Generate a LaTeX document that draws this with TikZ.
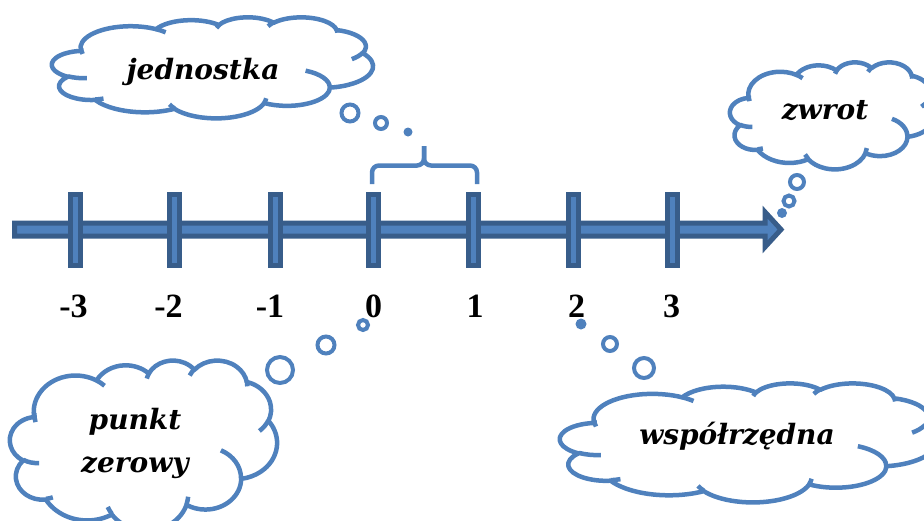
\documentclass[tikz,border=0pt]{standalone}
\usepackage{fontspec}
\setmainfont{Liberation Serif}
\newfontfamily\cloudfont{DejaVu Serif}
\definecolor{axisfill}{HTML}{4F81BD}
\definecolor{axisline}{HTML}{385D8A}

% Elliptic arc whose start and sweep are given as visual angles (degrees)
\newcommand\visarc[4]{%
  arc[x radius=#1, y radius=#2,
      start angle={atan2(#1*sin(#3),#2*cos(#3))},
      end angle={atan2(#1*sin(#3),#2*cos(#3))+mod(atan2(#1*sin(#3+#4),#2*cos(#3+#4))-atan2(#1*sin(#3),#2*cos(#3))+720,360)}]}

% Cloud outline in a 432 x 432 box
\newcommand\cloudoutline{%
  (39.00,143.70)
  \visarc{67.53}{91.90}{-190.48748}{123.78053}
  \visarc{53.33}{72.67}{-144.10238}{89.94523}
  \visarc{43.65}{59.45}{-145.80792}{99.72302}
  \visarc{48.57}{65.95}{-130.98607}{117.24173}
  \visarc{53.33}{72.73}{-78.70888}{109.02692}
  \visarc{67.75}{92.20}{-46.26725}{130.269}
  \visarc{57.85}{78.67}{0.62502}{114.03333}
  \visarc{67.52}{92.15}{22.4516}{115.17255}
  \visarc{77.20}{105.43}{66.24263}{75.71102}
  \visarc{43.60}{59.18}{-274.94208}{146.73557}
  \visarc{43.45}{59.45}{-246.8285}{152.51885}
  -- cycle}

% Short inner arcs of the cloud
\newcommand\cloudinner{%
  (46.93,261.77) \visarc{43.45}{59.45}{86.742}{26.4295}
  (69.28,348.99) \visarc{43.60}{59.18}{73.61047}{11.44747}
  (164.78,390.90) \visarc{67.52}{92.15}{137.62415}{14.0811}
  (288.27,347.51) \visarc{67.52}{92.15}{6.45327}{15.99835}
  (341.29,229.54) \visarc{57.85}{78.67}{-70.29235}{70.91737}
  (417.98,153.54) \visarc{53.33}{72.73}{30.31803}{27.7515}
  (383.24,54.26) \visarc{48.57}{65.95}{-13.74433}{14.8589}
  (290.78,39.52) \visarc{48.57}{65.95}{-149.18145}{18.19537}
  (221.41,47.20) \visarc{43.65}{59.45}{-163.49427}{17.68635}
  (140.00,51.92) \visarc{67.53}{91.90}{-66.70695}{12.31935}
  (41.27,157.89) \visarc{67.53}{91.90}{162.0468}{19.41953}}

\tikzset{
  cloudline/.style={draw=axisfill, line width=4.5pt, line join=round},
  bubble/.style={draw=axisfill, line width=4pt, fill=white},
  dotbubble/.style={fill=axisfill},
  tickbar/.style={rectangle, draw=axisline, fill=axisfill, line width=5pt,
    minimum width=10pt, minimum height=71pt, inner sep=0pt},
  numlabel/.style={anchor=base, inner sep=0pt,
    font=\fontsize{34}{40}\selectfont\bfseries},
  cloudtext/.style={anchor=base, inner sep=0pt,
    font=\cloudfont\fontsize{28}{34}\selectfont\bfseries\itshape},
  cloudbox/.style n args={4}{shift={(#1,#2)}, x={(#3/432*1pt,0pt)}, y={(0pt,-#4/432*1pt)}}
}

\begin{document}
\begin{tikzpicture}[x=1pt,y=-1pt]
  \useasboundingbox (0,0) rectangle (924,520);
  \clip (0,0) rectangle (924,520);

  % number line shaft with arrow head
  \draw[axisline, fill=axisfill, line width=5pt, line join=miter]
    (14.5,223) -- (765,223) -- (765,212) -- (781,229.5) -- (765,247)
    -- (765,236) -- (14.5,236) -- cycle;

  % tick marks
  \foreach \n/\x in {m3/75.5, m2/174.5, m1/275, z/373.5, p1/473.5, p2/573.5, p3/672}
    \node[tickbar] (t\n) at (\x,229.5) {};

  % numbers
  \node[numlabel] (lm3) at (73.5,317) {-3};
  \node[numlabel] (lm2) at (168.5,317) {-2};
  \node[numlabel] (lm1) at (270,317) {-1};
  \node[numlabel] (lz)  at (373.5,317) {0};
  \node[numlabel] (lp1) at (475,317) {1};
  \node[numlabel] (lp2) at (576.5,317) {2};
  \node[numlabel] (lp3) at (671.5,317) {3};

  % brace over the unit segment
  \draw[axisfill, line width=4.5pt, rounded corners=7pt]
    (372,184) -- (372,165.5) -- (424,165.5) -- (424,146);
  \draw[axisfill, line width=4.5pt, rounded corners=7pt]
    (477,184) -- (477,165.5) -- (424,165.5) -- (424,146);

  % clouds
  \begin{scope}[cloudbox={52}{17}{321}{101}]
    \draw[cloudline, fill=white] \cloudoutline;
    \draw[cloudline] \cloudinner;
  \end{scope}
  \begin{scope}[cloudbox={730}{62}{205}{107}]
    \draw[cloudline, fill=white] \cloudoutline;
    \draw[cloudline] \cloudinner;
  \end{scope}
  \begin{scope}[cloudbox={10}{360}{267}{170}]
    \draw[cloudline, fill=white] \cloudoutline;
    \draw[cloudline] \cloudinner;
  \end{scope}
  \begin{scope}[cloudbox={560}{383}{377}{119}]
    \draw[cloudline, fill=white] \cloudoutline;
    \draw[cloudline] \cloudinner;
  \end{scope}

  % thought bubbles
  \draw[bubble] (350,113) circle[radius=8.5];
  \draw[bubble] (381,123) circle[radius=6];
  \fill[dotbubble] (408,132) circle[radius=4.5];

  \draw[bubble] (797,182) circle[radius=7];
  \draw[bubble] (789,201) circle[radius=5.5];
  \fill[dotbubble] (782,213) circle[radius=5];

  \draw[bubble] (280,370) circle[radius=13];
  \draw[bubble] (326,345) circle[radius=8.5];
  \draw[bubble] (363,325) circle[radius=5];

  \fill[dotbubble] (581,324) circle[radius=5.5];
  \draw[bubble] (610,344) circle[radius=7];
  \draw[bubble] (644,368) circle[radius=10];

  % cloud texts
  \node[cloudtext] (unit) at (203,79) {jednostka};
  \node[cloudtext] (dir) at (825,119) {zwrot};
  \node[cloudtext] (orig1) at (135,429) {punkt};
  \node[cloudtext] (orig2) at (135,472) {zerowy};
  \node[cloudtext] (coord) at (737,444) {współrzędna};
\end{tikzpicture}
\end{document}
